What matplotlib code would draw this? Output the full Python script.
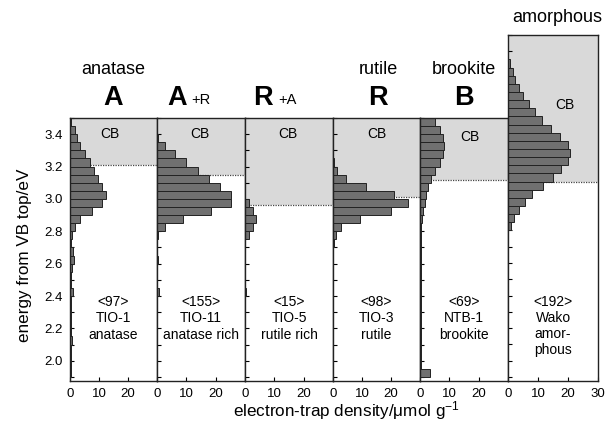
import numpy as np
import matplotlib
matplotlib.use("Agg")
import matplotlib.pyplot as plt
from matplotlib.ticker import MultipleLocator

plt.rcParams['font.family'] = ['Liberation Sans', 'DejaVu Sans']
plt.rcParams['mathtext.fontset'] = 'custom'
plt.rcParams['mathtext.rm'] = 'Liberation Sans'
plt.rcParams['mathtext.default'] = 'regular'

# ---------------- data ----------------
bin_width = 0.05
# values per 0.05 eV bin, listed from the top bin downward
anatase_top = 3.50
anatase = [0.5, 1.6, 2.4, 3.6, 5.0, 6.8, 8.3, 9.8, 11.1, 12.5, 11.1, 7.7, 3.6, 1.6, 0.6,
           0.3, 1.2, 1.5, 0.8, 0.3, 0.3, 1.0, 0.3, 0.2, 0.2, 0.2, 0.2, 0.6, 0.2, 0.2, 0.2, 0.2]
anatase_rich_top = 3.50
anatase_rich = [0.0, 0.0, 0.3, 2.6, 6.0, 10.0, 14.0, 17.7, 21.4, 25.1, 25.1, 18.3, 8.9, 2.6, 0.3,
                0.1, 0.1, 0.5, 0.1, 0.1, 0.1, 0.6, 0.1, 0.1, 0.1, 0.1, 0.1, 0.1, 0.1, 0.1, 0.1, 0.1]
rutile_rich_top = 3.50
rutile_rich = [0, 0, 0, 0, 0, 0, 0, 0, 0, 0, 1.3, 2.6, 3.8, 2.8, 1.3,
               0.1, 0.1, 0.1, 0.1, 0.1, 0.1, 0.4, 0.1, 0.1, 0.1, 0.1, 0.1, 0.1, 0.1, 0.1, 0.1, 0.1]
rutile_top = 3.50
rutile = [0, 0, 0, 0, 0, 0.5, 1.4, 4.5, 11.4, 21.0, 26.0, 20.0, 9.2, 2.7, 1.0,
          0.2, 0.1, 0.1, 0.1, 0.1, 0.1, 0.1, 0.1, 0.1, 0.1, 0.1, 0.1, 0.1, 0.1, 0.1, 0.1, 0.1]
brookite_top = 3.50
brookite = [5.2, 6.9, 7.8, 8.2, 7.8, 6.7, 5.2, 3.6, 2.7, 2.2, 1.7, 1.1, 0.7, 0.4, 0.3,
            0.3, 0.3, 0.3, 0.3, 0.3, 0.3, 0.5, 0.3, 0.3, 0.3, 0.3, 0.3, 0.3, 0.3, 0.3, 0.3, 3.3]
amorphous_top = 3.85
amorphous = [0.8, 1.7, 2.4, 3.6, 5.0, 6.9, 8.9, 11.4, 14.4, 17.4, 20.0, 20.6, 20.0, 17.8,
             15.0, 11.7, 8.1, 5.6, 3.6, 1.9, 1.1]

cb_bottom = [3.21, 3.15, 2.965, 3.01, 3.12, 3.10]
panel_top = [3.5, 3.5, 3.5, 3.5, 3.5, 4.0]
totals = ["<97>", "<155>", "<15>", "<98>", "<69>", "<192>"]
sample_labels = ["TIO-1\nanatase", "TIO-11\nanatase rich", "TIO-5\nrutile rich",
                 "TIO-3\nrutile", "NTB-1\nbrookite", "Wako\namor-\nphous"]
x_ticks = [[0, 10, 20]] * 5 + [[0, 10, 20, 30]]
y_ticks = [2.0, 2.2, 2.4, 2.6, 2.8, 3.0, 3.2, 3.4]

series = [(anatase_top, anatase), (anatase_rich_top, anatase_rich),
          (rutile_rich_top, rutile_rich), (rutile_top, rutile),
          (brookite_top, brookite), (amorphous_top, amorphous)]

# ---------------- layout ----------------
W, H = 611, 425
fig = plt.figure(figsize=(W / 100, H / 100), dpi=100)
lefts = [70, 157, 245, 333, 420, 508]
rights = [157, 245, 333, 420, 508, 598]
bottom_px = 381
tops_px = [118, 118, 118, 118, 118, 35]
ymin = 1.875

cb_text_pos = [(13.8, 3.40), (14.7, 3.40), (14.6, 3.40), (15.0, 3.40), (17.0, 3.38), (19.0, 3.57)]

for i in range(6):
    l, r, t = lefts[i], rights[i], tops_px[i]
    ax = fig.add_axes([l / W, 1 - bottom_px / H, (r - l) / W, (bottom_px - t) / H])
    ax.set_xlim(0, 30)
    ax.set_ylim(ymin, panel_top[i])
    ax.axhspan(cb_bottom[i], panel_top[i], color='#d9d9d9', zorder=0, lw=0)
    ax.axhline(cb_bottom[i], color='#444444', ls=(0, (1, 1)), lw=0.9, zorder=1)
    top, vals = series[i]
    centers = [top - (k + 0.5) * bin_width for k in range(len(vals))]
    ax.barh(centers, vals, height=bin_width, left=0, color='#707070',
            edgecolor='#222222', linewidth=0.7, zorder=2)
    for s in ax.spines.values():
        s.set_linewidth(1.0)
        s.set_color('#222222')
    ax.set_xticks(x_ticks[i])
    ax.tick_params(axis='x', direction='in', length=3, labelsize=9.5, pad=5, width=0.8)
    ax.yaxis.set_minor_locator(MultipleLocator(0.1))
    ax.set_yticks(y_ticks)
    ax.tick_params(axis='y', which='both', direction='in', length=3, width=0.8, labelsize=9.5, pad=5)
    if i != 0:
        ax.tick_params(axis='y', labelleft=False)
    cx, cy = cb_text_pos[i]
    ax.text(cx, cy, "CB", ha='center', va='center', fontsize=10)
    ax.text(15, 2.405, totals[i] + "\n" + sample_labels[i], ha='center', va='top',
            fontsize=10, linespacing=1.2)

def ftext(x, y, s, **kw):
    fig.text(x / W, 1 - y / H, s, **kw)

ftext(113, 69, "anatase", ha='center', va='center', fontsize=13)
ftext(113, 98, "A", ha='center', va='center', fontsize=19.5, fontweight='bold')
ftext(177, 98, "A", ha='center', va='center', fontsize=19.5, fontweight='bold')
ftext(191, 100, "+R", ha='left', va='center', fontsize=10.5)
ftext(263, 98, "R", ha='center', va='center', fontsize=19.5, fontweight='bold')
ftext(278, 100, "+A", ha='left', va='center', fontsize=10.5)
ftext(378, 69, "rutile", ha='center', va='center', fontsize=13)
ftext(378, 98, "R", ha='center', va='center', fontsize=19.5, fontweight='bold')
ftext(464, 69, "brookite", ha='center', va='center', fontsize=13)
ftext(464, 98, "B", ha='center', va='center', fontsize=19.5, fontweight='bold')
ftext(557, 18, "amorphous", ha='center', va='center', fontsize=13)

ftext(25, 255, "energy from VB top/eV", ha='center', va='center', rotation=90, fontsize=12.3)
ftext(346, 411, r"electron-trap density/μmol g$^{-1}$", ha='center', va='center', fontsize=12.3)

fig.savefig("out.png", dpi=100)
